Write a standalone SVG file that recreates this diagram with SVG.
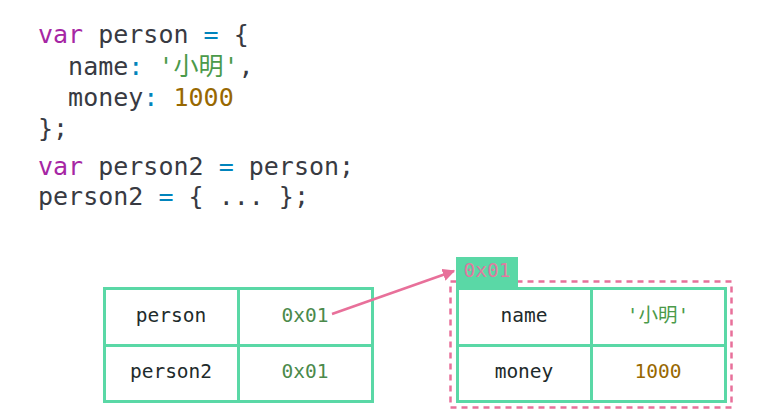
<svg xmlns="http://www.w3.org/2000/svg" width="770" height="415" viewBox="0 0 770 415">
<style>
.code{font-family:"DejaVu Sans Mono","Noto Sans CJK SC",monospace;font-size:25px;fill:#383a42;white-space:pre}
.kw{fill:#a626a4}
.op{fill:#0184bc}
.str{fill:#4b9a4a}
.num{fill:#986801}
.cell{fill:#ffffff;stroke:#5ad8a6;stroke-width:3}
.t{font-family:"DejaVu Sans Mono","Noto Sans CJK SC",monospace;font-size:19.5px;fill:#1e2b2b;text-anchor:middle}
.addr{fill:#4b8a4b}
.str2{fill:#4b9a4a}
.num2{fill:#986801}
.conn{stroke:#e8709a;stroke-width:2.5;fill:none}
</style>
<defs>
<marker id="arr" viewBox="0 0 10 10" refX="9" refY="5" markerWidth="5" markerHeight="5" orient="auto" markerUnits="strokeWidth">
<path d="M0,0 L10,5 L0,10 z" fill="#e8709a"/>
</marker>
</defs>
<rect width="770" height="415" fill="#ffffff"/>
<g id="code">
<text class="code" x="38" y="43"><tspan class="kw">var</tspan> person <tspan class="op">=</tspan> {</text>
<text class="code" x="38" y="75">  name<tspan class="op">:</tspan> <tspan class="str">'小明'</tspan>,</text>
<text class="code" x="38" y="106">  money<tspan class="op">:</tspan> <tspan class="num">1000</tspan></text>
<text class="code" x="38" y="137">};</text>
<text class="code" x="38" y="175"><tspan class="kw">var</tspan> person2 <tspan class="op">=</tspan> person;</text>
<text class="code" x="38" y="205">person2 <tspan class="op">=</tspan> { ... };</text>
</g>
<g id="stack">
<rect class="cell" x="104.5" y="288.5" width="134" height="57"/>
<rect class="cell" x="238.5" y="288.5" width="134" height="57"/>
<rect class="cell" x="104.5" y="345.5" width="134" height="56"/>
<rect class="cell" x="238.5" y="345.5" width="134" height="56"/>
<text class="t" x="171" y="322">person</text>
<text class="t addr" x="305" y="322">0x01</text>
<text class="t" x="171" y="378">person2</text>
<text class="t addr" x="305" y="378">0x01</text>
</g>
<g id="heap">
<rect x="450.5" y="281.5" width="281" height="126" fill="none" stroke="#e8709a" stroke-width="2.5" stroke-dasharray="6 5"/>
<rect x="456" y="257" width="62" height="32" fill="#5ad8a6"/>
<text class="t" x="487" y="277" fill="#e8709a" style="fill:#e07aa0">0x01</text>
<rect class="cell" x="457.5" y="288.5" width="134" height="57"/>
<rect class="cell" x="591.5" y="288.5" width="134" height="57"/>
<rect class="cell" x="457.5" y="345.5" width="134" height="56"/>
<rect class="cell" x="591.5" y="345.5" width="134" height="56"/>
<text class="t" x="524" y="322">name</text>
<text class="t str2" x="658" y="322">'小明'</text>
<text class="t" x="524" y="378">money</text>
<text class="t num2" x="658" y="378">1000</text>
</g>
<g id="connectors">
<line class="conn" x1="332" y1="314" x2="454" y2="271" marker-end="url(#arr)"/>
</g>
</svg>
